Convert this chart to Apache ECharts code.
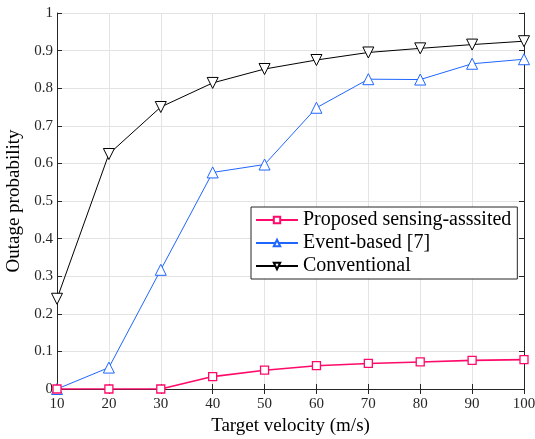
<!DOCTYPE html>
<html lang="en">
<head>
    <meta charset="UTF-8">
    <title>Outage probability</title>
    <script type="text/javascript" src="https://cdn.jsdelivr.net/npm/echarts@6/dist/echarts.min.js"></script>
</head>
<body style="margin:0">
<div id="main" style="width: 535px; height:439px;"></div>

<script>
    var velocity = [10, 20, 30, 40, 50, 60, 70, 80, 90, 100];
    var proposed = [0, 0, 0, 0.033, 0.050, 0.062, 0.068, 0.072, 0.076, 0.078];
    var eventBased = [0, 0.057, 0.317, 0.576, 0.597, 0.748, 0.824, 0.823, 0.865, 0.877];
    var conventional = [0.240, 0.625, 0.750, 0.814, 0.851, 0.875, 0.895, 0.906, 0.916, 0.925];

    var serif = 'Liberation Serif, Times New Roman, serif';
    var myChart = echarts.init(document.getElementById('main'));

    function pairs(arr) {
        var out = [];
        for (var i = 0; i < velocity.length; i++) out.push([velocity[i], arr[i]]);
        return out;
    }

    var boxAxis = {
        axisLine: {show: true, lineStyle: {color: '#262626', width: 1}},
        axisTick: {show: true, inside: true, length: 5, lineStyle: {color: '#262626'}},
        axisLabel: {show: false},
        splitLine: {show: false}
    };

    option = {
        animation: false,
        grid: {left: 57, right: 11, top: 13, bottom: 50, outerBoundsMode: 'none', containLabel: false},
        legend: {
            left: 251,
            top: 207,
            width: 265,
            orient: 'vertical',
            itemGap: 3,
            itemWidth: 42,
            itemHeight: 8,
            padding: [3, 6, 3, 4],
            backgroundColor: '#fff',
            borderColor: '#262626',
            borderWidth: 1,
            textStyle: {fontFamily: serif, fontSize: 20, color: '#000'},
            data: ['Proposed sensing-asssited', 'Event-based [7]', 'Conventional']
        },
        xAxis: [
            {
                type: 'value', min: 10, max: 100, interval: 10,
                name: 'Target velocity (m/s)', nameLocation: 'middle', nameGap: 28,
                nameTextStyle: {fontFamily: serif, fontSize: 19, color: '#000'},
                axisLine: {onZero: false, lineStyle: {color: '#262626'}},
                axisTick: {inside: true, length: 5, lineStyle: {color: '#262626'}},
                axisLabel: {fontFamily: serif, fontSize: 15, color: '#262626', margin: 8},
                splitLine: {show: true, lineStyle: {color: '#e3e3e3'}}
            },
            Object.assign({type: 'value', min: 10, max: 100, interval: 10, position: 'top'}, boxAxis)
        ],
        yAxis: [
            {
                type: 'value', min: 0, max: 1, interval: 0.1,
                name: 'Outage probability', nameLocation: 'middle', nameGap: 24,
                nameTextStyle: {fontFamily: serif, fontSize: 19, color: '#000'},
                axisLine: {show: true, onZero: false, lineStyle: {color: '#262626'}},
                axisTick: {show: true, inside: true, length: 5, lineStyle: {color: '#262626'}},
                axisLabel: {
                    fontFamily: serif, fontSize: 15, color: '#262626', margin: 4,
                    formatter: function (v) { return String(Math.round(v * 10) / 10); }
                },
                splitLine: {show: true, lineStyle: {color: '#e3e3e3'}}
            },
            Object.assign({type: 'value', min: 0, max: 1, interval: 0.1, position: 'right'}, boxAxis)
        ],
        series: [
            {
                name: 'Conventional', type: 'line', data: pairs(conventional),
                symbol: 'triangle', symbolRotate: 180, symbolSize: 11,
                lineStyle: {color: '#000', width: 1},
                itemStyle: {color: '#fff', borderColor: '#000', borderWidth: 1}
            },
            {
                name: 'Event-based [7]', type: 'line', data: pairs(eventBased),
                symbol: 'triangle', symbolSize: 11,
                lineStyle: {color: '#1f66ff', width: 1},
                itemStyle: {color: '#fff', borderColor: '#1f66ff', borderWidth: 1}
            },
            {
                name: 'Proposed sensing-asssited', type: 'line', data: pairs(proposed),
                symbol: 'rect', symbolSize: 8,
                lineStyle: {color: '#ff0a6a', width: 1.6},
                itemStyle: {color: '#fff', borderColor: '#ff0a6a', borderWidth: 1.3}
            }
        ]
    };

    myChart.setOption(option);
</script>
</body>
</html>
